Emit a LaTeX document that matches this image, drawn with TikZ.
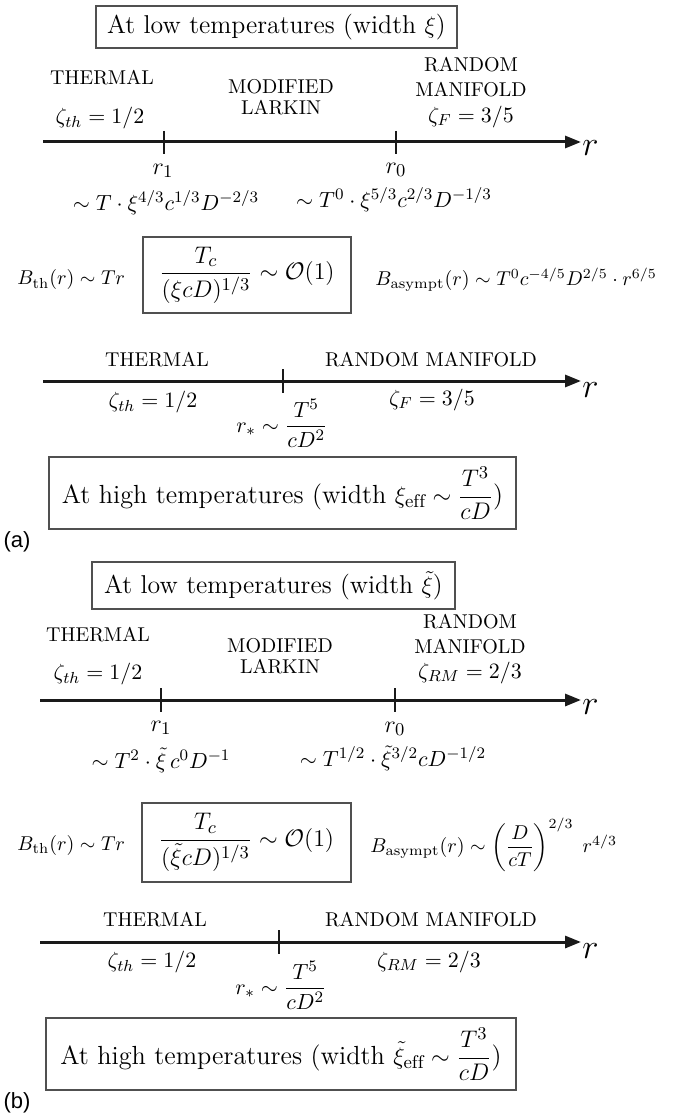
\documentclass[tikz,border=0pt]{standalone}
\usepackage{fontspec}
\usepackage{amsmath}
\usetikzlibrary{arrows.meta}
\newfontfamily\panelfont{Liberation Sans}
\definecolor{framegray}{HTML}{505050}
\definecolor{axisink}{HTML}{1A1A1A}

\tikzset{
  regime/.style={inner sep=0pt, font=\fontsize{10}{12}\selectfont},
  expo/.style={inner sep=0pt, font=\fontsize{11}{13}\selectfont},
  growth/.style={inner sep=0pt, anchor=west, font=\fontsize{10.4}{12.5}\selectfont},
  radlbl/.style={inner sep=0pt, font=\fontsize{12.5}{14}\selectfont},
  rlbl/.style={inner sep=0pt, anchor=west, font=\fontsize{16}{18}\selectfont},
  framed/.style={draw=framegray, line width=0.6pt, inner sep=0pt,
    font=\fontsize{12.9}{15}\selectfont},
  raxis/.style={draw=axisink, line width=1.5pt, -{Triangle[length=8pt,width=6pt]}},
  marker/.style={draw=axisink, line width=1.3pt},
  panel/.style={inner sep=0pt, font=\panelfont\fontsize{11}{13}\selectfont}
}

\begin{document}
\begin{tikzpicture}[x=0.5pt,y=-0.5pt]
  \useasboundingbox (0,0) rectangle (684,1118);

  % (a) low temperatures
  \node[framed, minimum width=180.5pt, minimum height=21pt] (lowA) at (276.5,27)
    {At low temperatures (width $\xi$)};
  \node[regime] (thA) at (102,78) {THERMAL};
  \node[expo] (zthA) at (100,118) {$\zeta_{th}=1/2$};
  \node[regime, align=center, font=\fontsize{10}{10.5}\selectfont] (mlA) at (281,97)
    {MODIFIED\\LARKIN};
  \node[regime, align=center, font=\fontsize{10}{12.5}\selectfont] (rmA) at (471,77)
    {RANDOM\\MANIFOLD};
  \node[expo] (zfA) at (471,117) {$\zeta_F=3/5$};
  \coordinate (axAs) at (43,142);
  \coordinate (axAe) at (581,142);
  \draw[raxis] (axAs) -- (axAe);
  \node[rlbl] (rA) at (582,148) {$r$};
  \coordinate (rOneA) at (164,142);
  \coordinate (rZeroA) at (396,142);
  \draw[marker] (rOneA) ++(0,-11) -- ++(0,23);
  \draw[marker] (rZeroA) ++(0,-11) -- ++(0,23);
  \node[radlbl] (lOneA) at (163,171) {$r_1$};
  \node[radlbl] (lZeroA) at (396,170) {$r_0$};
  \node[expo] (sOneA) at (166,203) {$\sim T\cdot\xi^{4/3}c^{1/3}D^{-2/3}$};
  \node[expo] (sZeroA) at (394,200) {$\sim T^0\cdot\xi^{5/3}c^{2/3}D^{-1/3}$};

  % (a) crossover
  \node[growth] (bthA) at (17,280) {$B_{\mathrm{th}}(r)\sim Tr$};
  \node[framed, minimum width=104pt, minimum height=38pt] (critA) at (247,275)
    {$\dfrac{T_c}{(\xi cD)^{1/3}}\sim\mathcal{O}(1)$};
  \node[growth] (basA) at (375,280)
    {$B_{\mathrm{asympt}}(r)\sim T^0c^{-4/5}D^{2/5}\cdot r^{6/5}$};

  % (a) high temperatures
  \node[regime] (thA2) at (157,360) {THERMAL};
  \node[regime] (rmA2) at (431,360) {RANDOM MANIFOLD};
  \coordinate (axA2s) at (43,381);
  \coordinate (axA2e) at (581,381);
  \draw[raxis] (axA2s) -- (axA2e);
  \node[rlbl] (rA2) at (582,390) {$r$};
  \coordinate (rStarA) at (283,381);
  \draw[marker] (rStarA) ++(0,-12) -- ++(0,24);
  \node[expo] (zthA2) at (153,402) {$\zeta_{th}=1/2$};
  \node[expo] (zfA2) at (432,400) {$\zeta_F=3/5$};
  \node[expo] (lStarA) at (282,423) {$r_*\sim\dfrac{T^5}{cD^2}$};
  \node[framed, minimum width=233.5pt, minimum height=36pt,
    font=\fontsize{13.1}{16}\selectfont] (highA) at (282.5,493)
    {At high temperatures (width $\xi_{\mathrm{eff}}\sim\dfrac{T^3}{cD}$)};
  \node[panel] (tagA) at (17,542) {(a)};

  % (b) low temperatures
  \node[framed, minimum width=181.5pt, minimum height=23.5pt] (lowB) at (273.5,585.5)
    {At low temperatures (width $\tilde{\xi}$)};
  \node[regime] (thB) at (98,635) {THERMAL};
  \node[expo] (zthB) at (98,674) {$\zeta_{th}=1/2$};
  \node[regime, align=center, font=\fontsize{10}{10.5}\selectfont] (mlB) at (280,656)
    {MODIFIED\\LARKIN};
  \node[regime, align=center, font=\fontsize{10}{12.5}\selectfont] (rmB) at (470,634.5)
    {RANDOM\\MANIFOLD};
  \node[expo] (zrmB) at (470,673) {$\zeta_{RM}=2/3$};
  \coordinate (axBs) at (40,700);
  \coordinate (axBe) at (581,700);
  \draw[raxis] (axBs) -- (axBe);
  \node[rlbl] (rB) at (582,707) {$r$};
  \coordinate (rOneB) at (161,700);
  \coordinate (rZeroB) at (395,700);
  \draw[marker] (rOneB) ++(0,-12) -- ++(0,24);
  \draw[marker] (rZeroB) ++(0,-12) -- ++(0,24);
  \node[radlbl] (lOneB) at (161,728) {$r_1$};
  \node[radlbl] (lZeroB) at (395,729) {$r_0$};
  \node[expo] (sOneB) at (161,760) {$\sim T^2\cdot\tilde{\xi}\,c^0D^{-1}$};
  \node[expo] (sZeroB) at (393,758) {$\sim T^{1/2}\cdot\tilde{\xi}^{3/2}cD^{-1/2}$};

  % (b) crossover
  \node[growth] (bthB) at (17,845) {$B_{\mathrm{th}}(r)\sim Tr$};
  \node[framed, minimum width=104.5pt, minimum height=39.5pt] (critB) at (246.5,842.5)
    {$\dfrac{T_c}{(\tilde{\xi}cD)^{1/3}}\sim\mathcal{O}(1)$};
  \node[growth] (basB) at (370,845)
    {$B_{\mathrm{asympt}}(r)\sim\left(\dfrac{D}{cT}\right)^{2/3}\;r^{4/3}$};

  % (b) high temperatures
  \node[regime] (thB2) at (155,920) {THERMAL};
  \node[regime] (rmB2) at (431,920) {RANDOM MANIFOLD};
  \coordinate (axB2s) at (40,942);
  \coordinate (axB2e) at (581,942);
  \draw[raxis] (axB2s) -- (axB2e);
  \node[rlbl] (rB2) at (582,951) {$r$};
  \coordinate (rStarB) at (279,942);
  \draw[marker] (rStarB) ++(0,-12) -- ++(0,24);
  \node[expo] (zthB2) at (152,962) {$\zeta_{th}=1/2$};
  \node[expo] (zrmB2) at (429,962) {$\zeta_{RM}=2/3$};
  \node[expo] (lStarB) at (281,985) {$r_*\sim\dfrac{T^5}{cD^2}$};
  \node[framed, minimum width=235pt, minimum height=36pt,
    font=\fontsize{13.1}{16}\selectfont] (highB) at (281,1054)
    {At high temperatures (width $\tilde{\xi}_{\mathrm{eff}}\sim\dfrac{T^3}{cD}$)};
  \node[panel] (tagB) at (17,1103) {(b)};
\end{tikzpicture}
\end{document}
